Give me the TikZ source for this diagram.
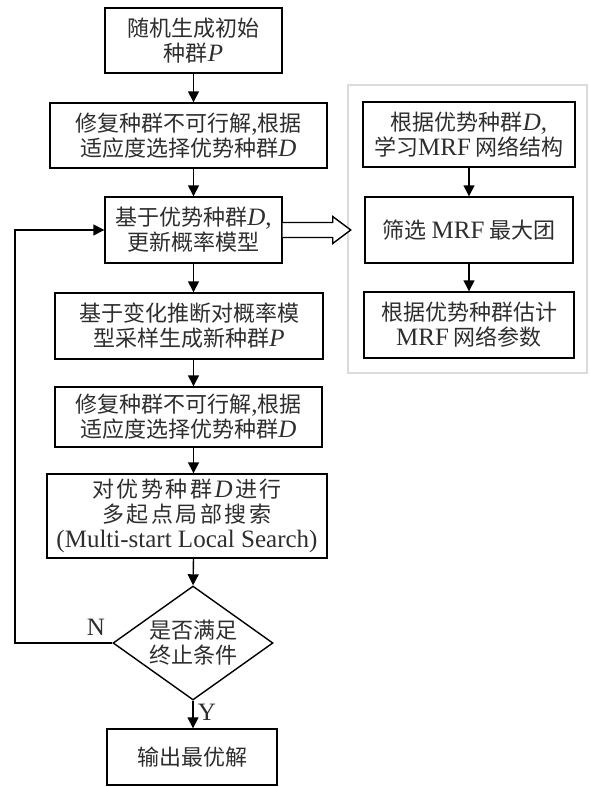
\documentclass[tikz,border=0pt]{standalone}
\usepackage{fontspec}
\setmainfont{Liberation Serif}
\newfontfamily\cjk{Noto Sans CJK SC}
\usetikzlibrary{shapes.geometric,arrows.meta,calc}
\definecolor{txt}{gray}{0.18}
\definecolor{panelgray}{gray}{0.86}
\newcommand\itl[1]{{\fontsize{25}{25}\selectfont\rmfamily\itshape #1}}
\newcommand\lat[1]{{\fontsize{25}{25}\selectfont\rmfamily #1}}
\newcommand\ls{\hspace{2.5pt}}
\tikzset{
  box/.style={draw=black, line width=1.4pt, fill=white, inner sep=0pt, align=center,
    text=txt, font=\fontsize{22}{25}\selectfont\cjk},
  decision/.style={box, diamond, aspect=1.4, minimum width=160pt, minimum height=114pt},
  arr/.style={line width=1.4pt, -{Triangle[length=11pt,width=11pt]}},
  hollow/.style={draw=black, line width=1.4pt, fill=white, line join=miter},
  lbl/.style={inner sep=0pt, text=txt, font=\fontsize{25}{25}\selectfont\rmfamily},
  panelbox/.style={draw=panelgray, line width=1.5pt, inner sep=0pt}
}
\begin{document}
\begin{tikzpicture}[x=1pt,y=-1pt]
\useasboundingbox (0,0) rectangle (589,787);
% right panel frame
\node[panelbox, minimum width=239pt, minimum height=288pt] (panel) at (467.5,229) {};
% main column
\node[box, minimum width=177pt, minimum height=65pt] (b1) at (193.5,40.5)
  {随机生成初始\\种群\itl{P}};
\node[box, minimum width=277pt, minimum height=65pt] (b2) at (188.5,135.5)
  {修复种群不可行解\lat{,}根据\\适应度选择优势种群\itl{D}};
\node[box, minimum width=177pt, minimum height=66pt] (b3) at (193.5,230)
  {基于优势种群\itl{D}\lat{,}\\更新概率模型};
\node[box, minimum width=268pt, minimum height=66pt] (b4) at (189,326)
  {基于变化推断对概率模\\型采样生成新种群\itl{P}};
\node[box, minimum width=267pt, minimum height=60pt] (b5) at (188.5,417)
  {修复种群不可行解\lat{,}根据\\适应度选择优势种群\itl{D}};
\node[box, minimum width=280pt, minimum height=84pt] (b6) at (187,516)
  {对\ls 优\ls 势\ls 种\ls 群\ls\itl{D}\ls 进\ls 行\\多\ls 起\ls 点\ls 局\ls 部\ls 搜\ls 索\\\lat{(Multi-start Local Search)}};
\node[decision] (dec) at (193,643) {是否满足\\终止条件};
\node[box, minimum width=170pt, minimum height=56pt] (out) at (192,757) {输出最优解};
% right column
\node[box, minimum width=212pt, minimum height=65pt] (r1) at (469,134.5)
  {根据优势种群\itl{D}\lat{,}\\学习\lat{MRF} 网络结构};
\node[box, minimum width=208pt, minimum height=66pt] (r2) at (469,230)
  {筛选 \lat{MRF} 最大团};
\node[box, minimum width=210pt, minimum height=66pt] (r3) at (469,325)
  {根据优势种群估计\\\lat{MRF} 网络参数};
% connectors
\draw[arr] (b1.south) -- (b1.south |- b2.north);
\draw[arr] (b1.south |- b2.south) -- (b3.north);
\draw[arr] (b3.south) -- (b3.south |- b4.north);
\draw[arr] (b3.south |- b4.south) -- (b3.south |- b5.north);
\draw[arr] (b3.south |- b5.south) -- (b3.south |- b6.north);
\draw[arr] (b3.south |- b6.south) -- (dec.north);
\draw[arr] (dec.south) -- (dec.south |- out.north);
\coordinate (loopbot) at (15,643);
\coordinate (looptop) at (15,230);
\draw[arr] (dec.west) -- (loopbot) -- (looptop) -- (b3.west);
\draw[arr] (r1.south) -- (r2.north);
\draw[arr] (r2.south) -- (r3.north);
% hollow arrow
\draw[hollow] ($(b3.east)+(0,-7.5)$) -- ++(50,0) -- ++(0,-6) -- ($(b3.east)+(68,0)$)
  -- ($(b3.east)+(50,13.5)$) -- ++(0,-6) -- ($(b3.east)+(0,7.5)$);
% labels
\node[lbl] (nlab) at (96,627) {N};
\node[lbl] (ylab) at (207,712) {Y};
\end{tikzpicture}
\end{document}
